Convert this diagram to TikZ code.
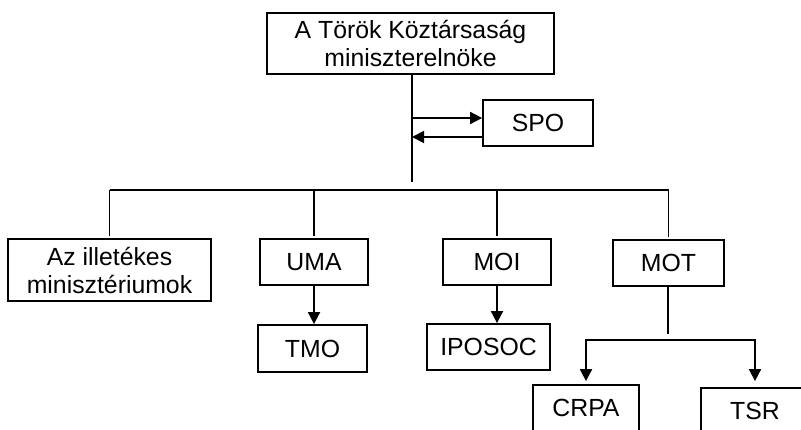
\documentclass[tikz,border=0pt]{standalone}
\usepackage{fontspec}
\setmainfont{Liberation Sans}
\usepackage{tikz}
\usetikzlibrary{arrows.meta}
\usetikzlibrary{positioning}
\usetikzlibrary{calc}
\tikzstyle{box}=[draw,line width=1.8pt,inner sep=0pt,align=center,font=\fontsize{24.8}{28}\selectfont]
\tikzstyle{arr}=[-{Triangle[width=12pt,length=12pt]}]

\begin{document}
\begin{tikzpicture}[x=1pt,y=-1pt,line width=1.8pt]
\useasboundingbox (0,0) rectangle (801,429);
\tikzstyle{small}=[box,minimum width=108pt,minimum height=46pt]
  \node [box,minimum width=287pt,minimum height=61pt] (pm) at (410.5,43.5) {A Török Köztársaság\\miniszterelnöke};
  \node [small,minimum width=110pt] (spo) at (538,123) {SPO};
  \node [box,minimum width=203pt,minimum height=62pt] (min) at (109.5,270) {Az illetékes\\minisztériumok};
  \node [small] (uma) at (314,262) {UMA};
  \node [small,minimum width=109pt,minimum height=47pt] (tmo) at (312.5,348.5) {TMO};
  \node [small] (moi) at (497,262) {MOI};
  \node [small,minimum width=123pt] (iposoc) at (488.5,347) {IPOSOC};
  \node [small,minimum width=111pt] (mot) at (668.5,263) {MOT};
  \node [small,minimum width=106pt] (crpa) at (586,408) {CRPA};
  \node [small] (tsr) at (755,411) {TSR};

  \coordinate (A) at (412,182);
  \coordinate (B) at (412,190);
  \coordinate (S1) at (412,118);
  \coordinate (S2) at (412,137);
  \coordinate (J) at (668,340);

  \draw (pm.south -| A) -- (A);
  \draw[arr] (S1) -- (S1 -| spo.west);
  \draw[arr] (S2 -| spo.west) -- (S2);
  \draw (min.north |- B) -- (mot.north |- B);
  \draw (min.north |- B) -- ([yshift=2pt]min.north);
  \draw (uma.north |- B) -- ([yshift=2pt]uma.north);
  \draw (moi.north |- B) -- ([yshift=2pt]moi.north);
  \draw (mot.north |- B) -- ([yshift=2pt]mot.north);

  \draw[arr] (uma.south) -- (uma.south |- tmo.north);
  \draw[arr] (moi.south) -- (moi.south |- iposoc.north);

  \draw (mot.south -| J) -- ([yshift=6pt]J);
  \draw[arr,shorten >=3pt] (J) -| (crpa.north);
  \draw[arr,shorten >=6pt] (J) -| (tsr.north);
\end{tikzpicture}
\end{document}
